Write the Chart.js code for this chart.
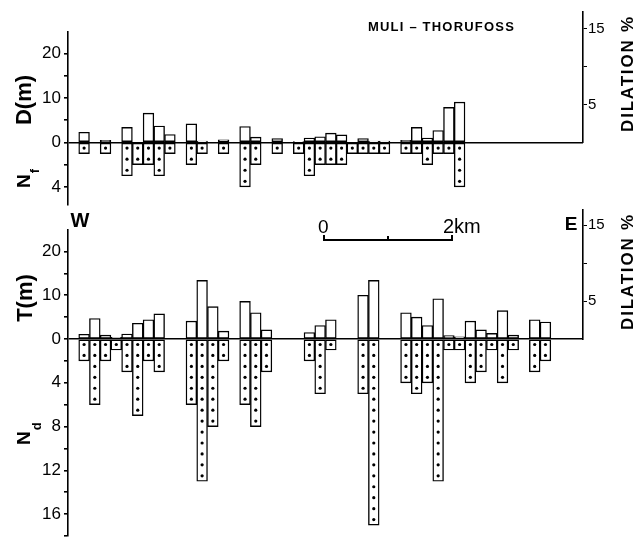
<!DOCTYPE html>
<html>
<head>
<meta charset="utf-8">
<script src="https://cdn.jsdelivr.net/npm/chart.js@4.4.1/dist/chart.umd.min.js"></script>
<style>
  html, body { margin: 0; background: #fff; }
  #wrap { width: 643px; height: 540px; }
</style>
</head>
<body>
<div id="wrap"><canvas id="chart"></canvas></div>
<script>
// 測線上の区間（W→E、等間隔 48 区間）。null は観測なし
const slots = [...Array(48).keys()];

// 上段: 断層の変位量 D (m) と断層数 Nf
const dMetres = [
    null, 2.3, null, 0.5, null, 3.4, 0, 6.6, 3.7, 1.8,
    null, 4.2, 0.3, null, 0.6, null, 3.6, 1.2, null, 0.9,
    null, 0.2, 1.0, 1.3, 2.1, 1.7, 0, 0.9, 0.3, 0.3,
    null, 0.5, 3.4, 1.0, 2.7, 7.9, 9.1, null, null, null,
    null, null, null, null, null, null, null, null,
];
const nfCounts = [
    null, 1, null, 1, null, 3, 2, 2, 3, 1,
    null, 2, 1, null, 1, null, 4, 2, null, 1,
    null, 1, 3, 2, 2, 2, 1, 1, 1, 1,
    null, 1, 1, 2, 1, 1, 4, null, null, null,
    null, null, null, null, null, null, null, null,
];

// 下段: 岩脈の総厚 T (m) と岩脈数 Nd
const tMetres = [
    null, 1.1, 4.7, 0.9, 0.4, 1.15, 3.6, 4.4, 5.75, null,
    null, 4.1, 13.4, 7.4, 1.8, null, 8.6, 6.0, 2.1, null,
    null, null, 1.5, 3.1, 4.4, null, null, 10.0, 13.4, null,
    null, 6.0, 5.0, 3.1, 9.2, 0.8, 0.5, 4.1, 2.1, 1.3,
    6.5, 0.9, null, 4.4, 3.9, null, null, null,
];
const ndCounts = [
    null, 2, 6, 2, 1, 3, 7, 2, 3, null,
    null, 6, 13, 8, 2, null, 6, 8, 3, null,
    null, null, 2, 5, 1, null, null, 5, 17, null,
    null, 4, 5, 4, 13, 1, 1, 4, 3, 1,
    4, 1, null, 3, 2, null, null, null,
];

// 目盛り
const mTicks = [20, 15, 10, 5, 0];
const mLabelled = [20, 10, 0];
const nfTicks = [2, 4];
const ndTicks = [2, 4, 6, 8, 10, 12, 14, 16, 18];
const nLabelled = [4, 8, 12, 16];
const dilTicks = [5, 10, 15];
const dilLabelled = [5, 15];

// 本数 4 本 = 10 m の高さで下向きに描く
const M_PER_COUNT = 2.5;

const FONT = '"Liberation Sans", Arial, Helvetica, sans-serif';

// 縦方向の割り付け（px）。チャート領域は y=12〜537 の 525px
const PX_M_TOP = 4.45;
const PX_M_BOT = 4.386;
const PX_PCT = 7.6;
const topRange = { min: -14, max: 25 };
const botRange = { min: -45, max: 25 };
const hGapA = 19.5;
const hTop = (topRange.max - topRange.min) * PX_M_TOP;
const hGapB = 25;
const hBot = (botRange.max - botRange.min) * PX_M_BOT;
const hTotal = hGapA + hTop + hGapB + hBot;
const zeroTop = hGapA + topRange.max * PX_M_TOP;
const zeroBot = hGapA + hTop + hGapB + botRange.max * PX_M_BOT;
const dilTopMax = zeroTop / PX_PCT;
const dilBotMax = 17.05;
const hGapC = zeroBot - dilBotMax * PX_PCT - zeroTop;
const hGapD = hTotal - zeroBot;

// 軸の幅を固定（左 68px、右 60px）
const fixWidth = (w) => (s) => {
    s.width = w;
    s.paddingTop = 0;
    s.paddingBottom = 0;
};

// レイアウト用の空き軸
function blankAxis(position, weight, stackWeight) {
    return {
        type: "linear",
        position,
        stack: "s",
        weight,
        stackWeight,
        min: 0,
        max: 1,
        ticks: { display: false },
        grid: { display: false, drawTicks: false },
        border: { display: false },
        afterFit: fixWidth(position === "left" ? 68 : 60),
    };
}

// 左軸（m と本数を同じ軸で表す）
function leftAxis(weight, stackWeight, range, counts) {
    const values = [...mTicks, ...counts.map((n) => -n * M_PER_COUNT)];
    return {
        type: "linear",
        position: "left",
        stack: "s",
        weight,
        stackWeight,
        min: range.min,
        max: range.max,
        afterBuildTicks: (s) => {
            s.ticks = values.map((v) => ({ value: v }));
        },
        afterFit: fixWidth(68),
        ticks: {
            autoSkip: false,
            color: "#000",
            padding: 3,
            font: { family: FONT, size: 17 },
            callback: (v) => {
                if (v >= 0) return mLabelled.includes(v) ? String(v) : "";
                const n = -v / M_PER_COUNT;
                return nLabelled.includes(n) ? String(n) : "";
            },
        },
        grid: {
            color: (c) => (c.tick && c.tick.value === 0 ? "#000" : "rgba(0,0,0,0)"),
            lineWidth: 1.6,
            tickColor: "#000",
            tickLength: 4,
        },
        border: { display: true, color: "#000", width: 1.6 },
    };
}

// 右軸（DILATION %、0 から上だけ）
function dilAxis(weight, stackWeight, max) {
    return {
        type: "linear",
        position: "right",
        stack: "s",
        weight,
        stackWeight,
        min: 0,
        max,
        afterBuildTicks: (s) => {
            s.ticks = dilTicks.map((v) => ({ value: v }));
        },
        afterFit: fixWidth(60),
        ticks: {
            autoSkip: false,
            color: "#000",
            padding: 1,
            font: { family: FONT, size: 15 },
            callback: (v) => (dilLabelled.includes(v) ? String(v) : ""),
        },
        grid: { drawOnChartArea: false, tickColor: "#000", tickLength: 4 },
        border: { display: true, color: "#000", width: 1.6 },
    };
}

// 柱（白抜き、黒枠）
function bars(values, axis) {
    return {
        type: "bar",
        data: values,
        yAxisID: axis,
        order: 1,
        grouped: false,
        barPercentage: 1,
        categoryPercentage: 1,
        backgroundColor: "#fff",
        borderColor: "#000",
        borderWidth: 1.4,
        borderSkipped: false,
    };
}

// 本数の点（1 本につき 1 点）
function dots(counts, axis) {
    const pts = [];
    counts.forEach((n, i) => {
        for (let k = 0; k < (n || 0); k++) {
            pts.push({ x: slots[i], y: -(k + 0.5) * M_PER_COUNT });
        }
    });
    return {
        type: "line",
        data: pts,
        yAxisID: axis,
        order: 0,
        showLine: false,
        pointRadius: 1.6,
        pointBorderWidth: 0,
        pointBackgroundColor: "#000",
        borderColor: "#000",
    };
}

function vText(ctx, str, x, y, font, spacing) {
    ctx.save();
    ctx.translate(x, y);
    ctx.rotate(-Math.PI / 2);
    ctx.font = font;
    ctx.letterSpacing = spacing || "0px";
    ctx.textAlign = "center";
    ctx.textBaseline = "middle";
    ctx.fillText(str, 0, 0);
    ctx.restore();
}

function vSub(ctx, main, sub, x, y, subOffset) {
    ctx.save();
    ctx.translate(x, y);
    ctx.rotate(-Math.PI / 2);
    ctx.textAlign = "left";
    ctx.textBaseline = "middle";
    ctx.font = `bold 19px ${FONT}`;
    ctx.fillText(main, 0, 0);
    const w = ctx.measureText(main).width;
    ctx.font = `bold 13px ${FONT}`;
    ctx.fillText(sub, w + 1, subOffset);
    ctx.restore();
}

// 表題・方位・スケールバー・軸名
const annotations = {
    id: "annotations",
    afterDraw(chart) {
        const ctx = chart.ctx;
        ctx.save();
        ctx.fillStyle = "#000";
        ctx.strokeStyle = "#000";

        ctx.font = `bold 13px ${FONT}`;
        ctx.letterSpacing = "1.2px";
        ctx.textAlign = "left";
        ctx.textBaseline = "alphabetic";
        ctx.fillText("MULI – THORUFOSS", 368, 31);
        ctx.letterSpacing = "0px";

        ctx.textAlign = "center";
        ctx.textBaseline = "middle";
        ctx.font = `bold 20px ${FONT}`;
        ctx.fillText("W", 80, 221);
        ctx.font = `bold 19px ${FONT}`;
        ctx.fillText("E", 571, 225);

        ctx.textAlign = "left";
        ctx.textBaseline = "alphabetic";
        ctx.font = `19px ${FONT}`;
        ctx.fillText("0", 318, 233);
        ctx.font = `20px ${FONT}`;
        ctx.fillText("2km", 443, 233);
        ctx.lineWidth = 2;
        ctx.beginPath();
        ctx.moveTo(324, 235);
        ctx.lineTo(324, 240);
        ctx.lineTo(452, 240);
        ctx.lineTo(452, 235);
        ctx.moveTo(388, 240);
        ctx.lineTo(388, 236);
        ctx.stroke();

        vText(ctx, "D(m)", 25, 100, `bold 22px ${FONT}`);
        vText(ctx, "T(m)", 26, 298, `bold 22px ${FONT}`);
        vSub(ctx, "N", "f", 25, 188, 10);
        vSub(ctx, "N", "d", 25, 445, 12);
        vText(ctx, "DILATION %", 628, 73.5, `bold 17px ${FONT}`, "1.8px");
        vText(ctx, "DILATION %", 628, 271.5, `bold 17px ${FONT}`, "1.8px");
        ctx.restore();
    },
};

new Chart(document.getElementById("chart"), {
    type: "bar",
    data: {
        labels: slots,
        datasets: [
            dots(nfCounts, "yTop"),
            dots(ndCounts, "yBot"),
            bars(dMetres, "yTop"),
            bars(nfCounts.map((n) => (n == null ? null : -n * M_PER_COUNT)), "yTop"),
            bars(tMetres, "yBot"),
            bars(ndCounts.map((n) => (n == null ? null : -n * M_PER_COUNT)), "yBot"),
        ],
    },
    options: {
        responsive: true,
        maintainAspectRatio: false,
        animation: false,
        events: [],
        layout: { padding: { top: 12, bottom: 3, left: 0, right: 0 } },
        plugins: {
            legend: { display: false },
            tooltip: { enabled: false },
        },
        scales: {
            x: { type: "category", display: false, offset: true },
            // 左は重みの大きい順に上から並ぶ
            gapA: blankAxis("left", 4, hGapA),
            yTop: leftAxis(3, hTop, topRange, nfTicks),
            gapB: blankAxis("left", 2, hGapB),
            yBot: leftAxis(1, hBot, botRange, ndTicks),
            // 右は重みの小さい順に上から並ぶ
            dilTop: dilAxis(1, zeroTop, dilTopMax),
            gapC: blankAxis("right", 2, hGapC),
            dilBot: dilAxis(3, dilBotMax * PX_PCT, dilBotMax),
            gapD: blankAxis("right", 4, hGapD),
        },
    },
    plugins: [annotations],
});
</script>
</body>
</html>
